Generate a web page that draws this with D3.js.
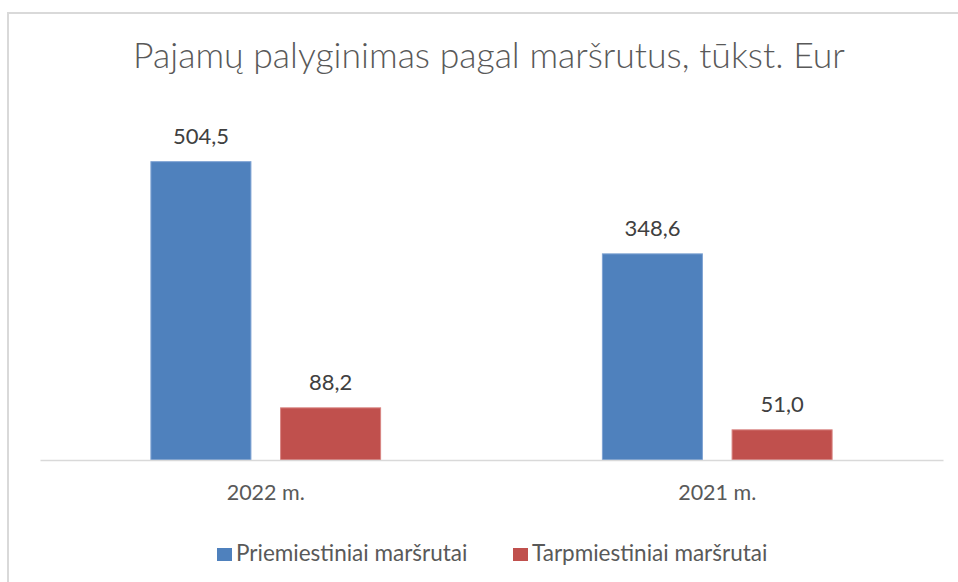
<!DOCTYPE html>
<html>
<head>
<meta charset="utf-8">
<script src="https://cdn.jsdelivr.net/npm/d3@7"></script>
<style>
  html, body { margin: 0; padding: 0; background: #ffffff; }
  svg { display: block; font-family: Lato, "Open Sans", sans-serif; }
</style>
</head>
<body>
<svg id="chart" width="958" height="582"></svg>
<script>
const title = "Pajamų palyginimas pagal maršrutus, tūkst. Eur";
const categories = ["2022 m.", "2021 m."];
const seriesNames = ["Priemiestiniai maršrutai", "Tarpmiestiniai maršrutai"];
const priemiestiniai = [504.5, 348.6];
const tarpmiestiniai = [88.2, 51.0];
const seriesColors = ["#4F81BD", "#C0504D"];
const seriesStroke = ["#7FA3D3", "#D88482"];

const series = [priemiestiniai, tarpmiestiniai];
const rows = categories.map((c, i) => ({ cat: c, values: series.map((s, k) => ({ k, v: s[i] })) }));

const svg = d3.select("#chart");

// frame
svg.append("path")
  .attr("d", "M8,582 L8,13 L958,13")
  .attr("fill", "none").attr("stroke", "#d9d9d9").attr("stroke-width", 2);

// title
svg.append("text")
  .attr("x", 489).attr("y", 68)
  .attr("text-anchor", "middle")
  .attr("font-size", 35.6).attr("font-weight", 300)
  .attr("fill", "#595959")
  .text(title);

const plotLeft = 40, plotRight = 943, baseY = 460;

const x0 = d3.scaleBand().domain(categories).range([plotLeft, plotRight]).paddingInner(0.489).paddingOuter(0.2445);
const x1 = d3.scaleBand().domain(d3.range(series.length)).range([0, x0.bandwidth()]).paddingInner(0.221);
const y = d3.scaleLinear().domain([0, 600]).range([baseY, baseY - 354.8]);

const g = svg.append("g");
const groups = g.selectAll("g.grp").data(rows).join("g")
  .attr("class", "grp")
  .attr("transform", d => `translate(${x0(d.cat)},0)`);

groups.selectAll("rect").data(d => d.values).join("rect")
  .attr("x", d => x1(d.k) + 0.5)
  .attr("width", x1.bandwidth() - 1)
  .attr("y", d => y(d.v))
  .attr("height", d => baseY - y(d.v))
  .attr("fill", d => seriesColors[d.k])
  .attr("stroke", d => seriesStroke[d.k])
  .attr("stroke-width", 1);

groups.selectAll("text").data(d => d.values).join("text")
  .attr("x", d => x1(d.k) + x1.bandwidth() / 2)
  .attr("y", d => y(d.v) - 17.5)
  .attr("text-anchor", "middle")
  .attr("font-size", 22)
  .attr("fill", "#404040")
  .text(d => d3.format(".1f")(d.v).replace(".", ","));

// axis
const xAxis = d3.axisBottom(x0).tickSize(0).tickPadding(0);
const ax = svg.append("g").attr("transform", `translate(0,${baseY})`).call(xAxis);
ax.select(".domain").attr("stroke", "#d9d9d9").attr("stroke-width", 1.5);
ax.selectAll(".tick text")
  .attr("dy", null).attr("y", 40)
  .attr("font-family", "Lato, 'Open Sans', sans-serif")
  .attr("font-size", 21.5).attr("fill", "#595959");

// legend
const legendX = [217, 513];
const lg = svg.append("g").selectAll("g").data(seriesNames).join("g")
  .attr("transform", (d, i) => `translate(${legendX[i]},0)`);
lg.append("rect").attr("x", 0).attr("y", 548).attr("width", 15).attr("height", 13)
  .attr("fill", (d, i) => seriesColors[i]);
lg.append("text").attr("x", 19).attr("y", 561)
  .attr("font-size", 22.5).attr("fill", "#595959")
  .text(d => d);
</script>
</body>
</html>
